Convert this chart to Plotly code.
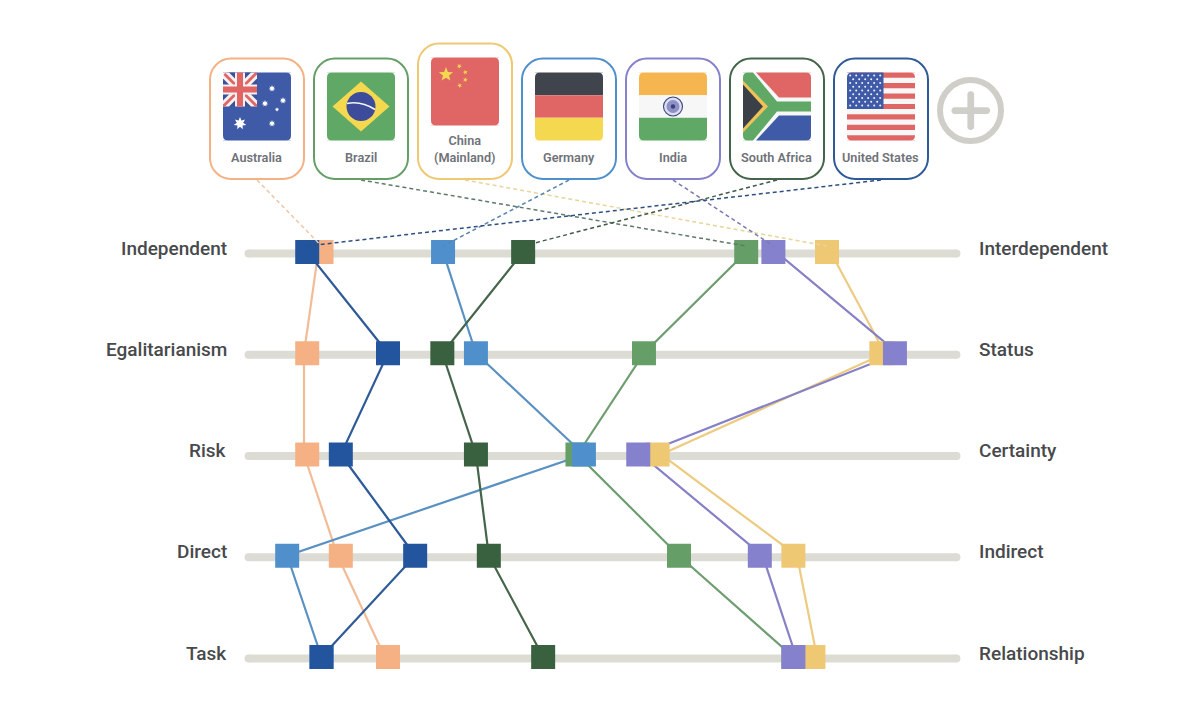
import plotly.graph_objects as go
import math

# ---------- data (position on each dimension, 0 = left pole, 100 = right pole) ----------
LEFT_POLES = ["Independent", "Egalitarianism", "Risk", "Direct", "Task"]
RIGHT_POLES = ["Interdependent", "Status", "Certainty", "Indirect", "Relationship"]

AUSTRALIA = [10.7, 8.7, 8.7, 13.4, 20.0]
BRAZIL = [70.1, 55.8, 46.5, 60.7, 76.7]
CHINA = [81.4, 89.0, 57.7, 76.7, 79.5]
GERMANY = [27.7, 32.3, 47.4, 5.9, 10.7]
INDIA = [73.9, 90.9, 55.0, 72.0, 76.7]
SOUTH_AFRICA = [38.9, 27.6, 32.3, 34.1, 41.7]
UNITED_STATES = [8.7, 20.0, 13.4, 23.8, 10.7]

COUNTRIES = ["Australia", "Brazil", "China", "Germany", "India", "South Africa", "United States"]
CARD_LABELS = ["Australia", "Brazil", "China<br>(Mainland)", "Germany", "India", "South Africa", "United States"]
COLORS = ["#F5B183", "#659F67", "#EFC874", "#4F90CC", "#8681CC", "#39603F", "#23559E"]
LINE_COLORS = ["#F2BC97", "#6E9E70", "#EDCB80", "#5A91C2", "#8681C6", "#45654A", "#2E5A98"]
DASH_COLORS = ["#F0C6A6", "#5E7A68", "#E9D49A", "#5A85B0", "#7A7AAE", "#3F5A48", "#2F4F80"]
LINE_NUDGE = [-0.45, 0, 0.5, 0, 0.4, 0, 0]
VALUES = [AUSTRALIA, BRAZIL, CHINA, GERMANY, INDIA, SOUTH_AFRICA, UNITED_STATES]

# ---------- layout constants ----------
W, H = 1200, 713
TRACK_X0, TRACK_X1 = 245.0, 960.0
ROW_TOP, ROW_GAP = 252.0, 101.25
TRACK_COLOR = "#DCDBD4"
TEXT_DARK = "#48494C"
TEXT_GREY = "#6F7278"
FONT = "Roboto"

RED, GREEN, YEL, BLUE, NAVY = "#E06666", "#5FA866", "#F4D84F", "#3F5AA6", "#2E3F8F"
rows = list(range(len(LEFT_POLES)))
UNIT = (TRACK_X1 - TRACK_X0) / 100


def px(v):
    return TRACK_X0 + v * UNIT


def rrect(x0, y0, x1, y1, r):
    k = r * 0.45
    return (f"M{x0 + r},{y0} L{x1 - r},{y0} C{x1 - k},{y0} {x1},{y0 + k} {x1},{y0 + r} "
            f"L{x1},{y1 - r} C{x1},{y1 - k} {x1 - k},{y1} {x1 - r},{y1} "
            f"L{x0 + r},{y1} C{x0 + k},{y1} {x0},{y1 - k} {x0},{y1 - r} "
            f"L{x0},{y0 + r} C{x0},{y0 + k} {x0 + k},{y0} {x0 + r},{y0} Z")


shapes = []


def pix(path=None, **kw):
    d = dict(xref="x2", yref="y2", layer="above")
    if path:
        d.update(type="path", path=path)
    d.update(kw)
    shapes.append(d)


def poly(points, fill):
    path = "M" + " L".join(f"{x},{y}" for x, y in points) + " Z"
    pix(path, fillcolor=fill, line_width=0)


def rect(x0, y0, x1, y1, fill):
    poly([(x0, y0), (x1, y0), (x1, y1), (x0, y1)], fill)


def dot(cx, cy, r, fill, line=None, lw=0):
    pix(type="circle", x0=cx - r, x1=cx + r, y0=cy - r, y1=cy + r,
        fillcolor=fill, line=dict(color=line or fill, width=lw))


def star(cx, cy, r, fill, n=5, inner=0.42, rot=-90):
    pts = []
    for i in range(2 * n):
        rad = r if i % 2 == 0 else r * inner
        a = math.radians(rot + i * 180 / n)
        pts.append((round(cx + rad * math.cos(a), 2), round(cy + rad * math.sin(a), 2)))
    poly(pts, fill)


def corners(x0, y0, x1, y1, r=5):
    for (cx, cy, dx, dy) in [(x0, y0, 1, 1), (x1, y0, -1, 1), (x0, y1, 1, -1), (x1, y1, -1, -1)]:
        pix(f"M{cx},{cy} L{cx + dx * r},{cy} Q{cx},{cy} {cx},{cy + dy * r} Z",
            fillcolor="white", line_width=0)


def diag(x0, y0, s, w, fill, flip=False):
    x1, y1 = x0 + s, y0 + s
    if not flip:
        poly([(x0, y0), (x0 + w, y0), (x1, y1 - w), (x1, y1), (x1 - w, y1), (x0, y0 + w)], fill)
    else:
        poly([(x1, y0), (x1 - w, y0), (x0, y1 - w), (x0, y1), (x0 + w, y1), (x1, y0 + w)], fill)


def flag_australia(x, y, s=68):
    rect(x, y, x + s, y + s, BLUE)
    c = 34
    rect(x, y, x + c, y + c, "#3D5296")
    diag(x, y, c, 6, "#F6F1F1")
    diag(x, y, c, 6, "#F6F1F1", flip=True)
    diag(x, y, c, 2, RED)
    diag(x, y, c, 2, RED, flip=True)
    rect(x + c / 2 - 5, y, x + c / 2 + 5, y + c, "#F6F1F1")
    rect(x, y + c / 2 - 5, x + c, y + c / 2 + 5, "#F6F1F1")
    rect(x + c / 2 - 3, y, x + c / 2 + 3, y + c, RED)
    rect(x, y + c / 2 - 3, x + c, y + c / 2 + 3, RED)
    star(x + 17, y + 51, 6.5, "white", n=7, inner=0.5)
    for dx, dy, r in [(49, 16, 3.4), (60, 28, 3.4), (42, 31, 3.4), (54, 37, 2.2), (49, 51, 3.4)]:
        star(x + dx, y + dy, r, "white", n=7, inner=0.5)
    corners(x, y, x + s, y + s)


def flag_brazil(x, y, s=68):
    rect(x, y, x + s, y + s, GREEN)
    cx, cy = x + s / 2, y + s / 2
    poly([(cx - 28.5, cy), (cx, cy - 25), (cx + 28.5, cy), (cx, cy + 25)], YEL)
    dot(cx, cy, 14.5, "#3C4C9A")
    pix(f"M{cx - 14},{cy - 3} Q{cx},{cy - 6} {cx + 14},{cy + 3}", line=dict(color="#F4F4F4", width=1.6))
    corners(x, y, x + s, y + s)


def flag_china(x, y, s=68):
    rect(x, y, x + s, y + s, RED)
    star(x + 15, y + 17, 7.5, YEL, inner=0.42)
    for dx, dy, rot in [(28.3, 8.7, -60), (34.3, 14.7, -30), (34.3, 22.3, 0), (28.7, 28, 30)]:
        star(x + dx, y + dy, 2.6, YEL, rot=rot)
    corners(x, y, x + s, y + s)


def flag_germany(x, y, s=68):
    rect(x, y, x + s, y + 22.7, "#40444D")
    rect(x, y + 22.7, x + s, y + 45.3, RED)
    rect(x, y + 45.3, x + s, y + s, YEL)
    corners(x, y, x + s, y + s)


def flag_india(x, y, s=68):
    rect(x, y, x + s, y + 22.7, "#F5B650")
    rect(x, y + 22.7, x + s, y + 45.3, "#F7F7F7")
    rect(x, y + 45.3, x + s, y + s, GREEN)
    cx, cy = x + s / 2, y + s / 2
    dot(cx, cy, 9.5, "#DDDDF0", line="#36427F", lw=1.1)
    dot(cx, cy, 6.5, "#8E90C6")
    dot(cx, cy, 2.2, "#36427F")
    corners(x, y, x + s, y + s)


def flag_south_africa(x, y, s=68):
    rect(x, y, x + s, y + s, "#F7F7F7")
    R = x + s
    poly([(x + 13, y), (R, y), (R, y + 25), (x + 36, y + 25)], RED)
    poly([(x + 13, y + s), (R, y + s), (R, y + 43), (x + 36, y + 43)], BLUE)
    poly([(x, y), (x + 10, y), (x + 34, y + 29), (R, y + 29), (R, y + 39), (x + 34, y + 39),
          (x + 10, y + s), (x, y + s)], GREEN)
    poly([(x, y + 8), (x + 25, y + 34), (x, y + 60)], "#F0C25A")
    poly([(x, y + 12), (x + 20, y + 34), (x, y + 56)], "#3B3F48")
    corners(x, y, x + s, y + s)


def flag_us(x, y, s=68):
    h = s / 13
    rect(x, y, x + s, y + s, "#F7F7F7")
    for i in range(0, 13, 2):
        rect(x, y + i * h, x + s, y + (i + 1) * h, RED)
    cw, ch = 36.5, 7 * h
    rect(x, y, x + cw, y + ch, BLUE)
    for r in range(9):
        n = 6 if r % 2 == 0 else 5
        off = 3.2 if r % 2 == 0 else 6.2
        for c in range(n):
            dot(x + off + c * 6.0, y + 3 + r * 3.75, 1.0, "#F2F3FA")
    corners(x, y, x + s, y + s)


FLAG_DRAW = [flag_australia, flag_brazil, flag_china, flag_germany, flag_india,
             flag_south_africa, flag_us]

CARD_STEP = 104.0
CARD_X0 = 210.0
CARD_W = 94.0
CARD_BOTTOM = 179.0
annotations = []
card_bottom_centers = []
for i, name in enumerate(COUNTRIES):
    x0 = CARD_X0 + i * CARD_STEP
    x1 = x0 + CARD_W
    tall = name == "China"
    y0 = 43.5 if tall else 58.5
    pix(rrect(x0, y0, x1, CARD_BOTTOM, 21), fillcolor="white",
        line=dict(color=COLORS[i] if name not in ("South Africa", "United States") else LINE_COLORS[i], width=2))
    FLAG_DRAW[i](x0 + 13, y0 + 14.0)
    cx = (x0 + x1) / 2
    card_bottom_centers.append(cx)
    annotations.append(dict(
        xref="x2", yref="y2", x=cx - 0.5, y=149 if tall else 157, text=CARD_LABELS[i],
        showarrow=False, xanchor="center", yanchor="middle", align="center",
        font=dict(family=FONT, size=12.7, color=TEXT_GREY, weight=600),
    ))

# plus button
pix(type="circle", x0=940, x1=1001, y0=80, y1=141, fillcolor="rgba(0,0,0,0)",
    line=dict(color="#CFCEC8", width=6))
pix(rrect(951.5, 107.3, 990, 114, 3), fillcolor="#CFCEC8", line_width=0)
pix(rrect(967.4, 91.3, 974.1, 130, 3), fillcolor="#CFCEC8", line_width=0)

for j, lab in enumerate(LEFT_POLES):
    annotations.append(dict(xref="x2", yref="y", x=228.5, y=j, yshift=4, text=lab, showarrow=False,
                            xanchor="right", yanchor="middle",
                            font=dict(family=FONT, size=19, color=TEXT_DARK, weight=500)))
for j, lab in enumerate(RIGHT_POLES):
    annotations.append(dict(xref="x2", yref="y", x=976.5, y=j, yshift=4, text=lab, showarrow=False,
                            xanchor="left", yanchor="middle",
                            font=dict(family=FONT, size=19, color=TEXT_DARK, weight=500)))

fig = go.Figure()

# connectors from cards to first-row squares (overlay pixel axes)
for i, name in enumerate(COUNTRIES):
    fig.add_trace(go.Scatter(
        x=[card_bottom_centers[i], px(VALUES[i][0])], y=[CARD_BOTTOM + 1, ROW_TOP - 6],
        xaxis="x2", yaxis="y2", mode="lines", hoverinfo="skip", showlegend=False,
        line=dict(color=DASH_COLORS[i], width=1.5, dash="4px,3px"),
    ))

# tracks
for r in rows:
    fig.add_trace(go.Scatter(
        x=[0.5, 99.5], y=[r + 0.015, r + 0.015], mode="lines+markers", hoverinfo="skip", showlegend=False,
        line=dict(color=TRACK_COLOR, width=8),
        marker=dict(color=TRACK_COLOR, size=8, symbol="circle", line_width=0),
    ))

# connecting lines
for i, name in enumerate(COUNTRIES):
    fig.add_trace(go.Scatter(
        x=[v + LINE_NUDGE[i] for v in VALUES[i]], y=rows, mode="lines", showlegend=False, hoverinfo="skip",
        line=dict(color=LINE_COLORS[i], width=2.2),
    ))

# squares
for i, name in enumerate(COUNTRIES):
    fig.add_trace(go.Scatter(
        x=VALUES[i], y=rows, mode="markers", name=name, showlegend=False,
        marker=dict(color=COLORS[i], size=24, symbol="square", line_width=0),
    ))

fig.update_layout(
    width=W, height=H, margin=dict(l=0, r=0, t=0, b=0, pad=0),
    paper_bgcolor="white", plot_bgcolor="white", showlegend=False,
    xaxis=dict(domain=[0, 1], range=[-TRACK_X0 / UNIT, (W - TRACK_X0) / UNIT], visible=False, fixedrange=True),
    yaxis=dict(domain=[0, 1], range=[(H - ROW_TOP) / ROW_GAP, -ROW_TOP / ROW_GAP], visible=False, fixedrange=True),
    xaxis2=dict(range=[0, W], visible=False, overlaying="x", anchor="y2", fixedrange=True),
    yaxis2=dict(range=[H, 0], visible=False, overlaying="y", anchor="x2", fixedrange=True),
    shapes=shapes, annotations=annotations,
)

fig.write_html("out.html", config={"displayModeBar": False},
               post_script="document.body.style.margin='0';document.documentElement.style.overflow='hidden';")
